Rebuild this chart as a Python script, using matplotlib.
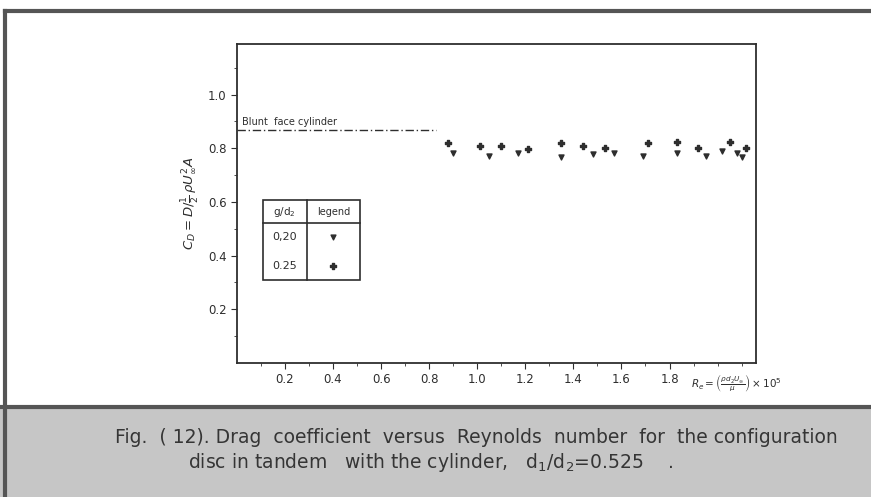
import matplotlib
matplotlib.use("Agg")
import matplotlib.pyplot as plt
from matplotlib.patches import Rectangle
from matplotlib.lines import Line2D

# data
re_025 = [0.88, 1.01, 1.10, 1.21, 1.35, 1.44, 1.53, 1.71, 1.83, 1.92, 2.05, 2.12]
cd_025 = [0.818, 0.81, 0.81, 0.796, 0.818, 0.81, 0.80, 0.818, 0.822, 0.80, 0.822, 0.803]
re_020 = [0.90, 1.05, 1.17, 1.35, 1.48, 1.57, 1.69, 1.83, 1.95, 2.02, 2.08, 2.10]
cd_020 = [0.784, 0.773, 0.781, 0.766, 0.777, 0.781, 0.773, 0.781, 0.773, 0.79, 0.781, 0.766]
blunt_cd = 0.87
blunt_re = [0.0, 0.83]
xticks = [0.2, 0.4, 0.6, 0.8, 1.0, 1.2, 1.4, 1.6, 1.8]
yticks = [0.2, 0.4, 0.6, 0.8, 1.0]

ink = "#2e2e2e"
plt.rcParams['font.family'] = ['DejaVu Sans']

fig = plt.figure(figsize=(8.71, 4.97), dpi=100)
fig.patch.set_facecolor("white")

# scan frame and caption band
fig.add_artist(Rectangle((0.0, 0.0), 1.0, 0.178, transform=fig.transFigure,
                         facecolor="#c6c6c6", edgecolor="none"))
fig.add_artist(Line2D([0.0, 1.0], [0.182, 0.182], transform=fig.transFigure,
                      color="#555555", lw=3))
fig.add_artist(Line2D([0.006, 1.0], [0.978, 0.978], transform=fig.transFigure,
                      color="#555555", lw=3))
fig.add_artist(Line2D([0.006, 0.006], [0.0, 0.978], transform=fig.transFigure,
                      color="#555555", lw=3))
fig.text(0.547, 0.12, "Fig.  ( 12). Drag  coefficient  versus  Reynolds  number  for  the configuration",
         ha="center", va="center", fontsize=13.5, color="#353535")
fig.text(0.494, 0.07, r"disc in tandem   with the cylinder,   d$_1$/d$_2$=0.525    .",
         ha="center", va="center", fontsize=13.5, color="#353535")

ax = fig.add_axes([0.272, 0.27, 0.596, 0.642])
ax.set_xlim(0, 2.16)
ax.set_ylim(0, 1.19)
for s in ax.spines.values():
    s.set_color(ink)
    s.set_linewidth(1.3)

ax.set_xticks(xticks)
ax.set_xticklabels([f"{v:.1f}" for v in xticks])
ax.set_xticks([v / 10 for v in range(1, 22)], minor=True)
ax.set_yticks(yticks)
ax.set_yticklabels([f"{v:.1f}" for v in yticks])
ax.set_yticks([v / 10 for v in range(1, 12)], minor=True)
ax.tick_params(axis="both", which="major", direction="out", length=4, color=ink,
               labelsize=8.5, labelcolor=ink)
ax.tick_params(axis="both", which="minor", direction="out", length=2, color=ink)

ax.set_ylabel(r"$C_D=D/\frac{1}{2}\,\rho U_\infty^2 A$", fontsize=9.5, color=ink, labelpad=4)

ax.text(2.08, -0.075, r"$R_e=\left(\frac{\rho d_2 U_\infty}{\mu}\right)\times10^5$",
        fontsize=7.5, color=ink, ha="center", va="center", clip_on=False)

# blunt face reference line
ax.plot(blunt_re, [blunt_cd, blunt_cd], color=ink, lw=1, ls=(0, (6, 2, 1, 2)))
ax.text(0.02, blunt_cd + 0.01, "Blunt  face cylinder", fontsize=7, color=ink,
        ha="left", va="bottom")

ax.scatter(re_025, cd_025, marker="P", s=22, color=ink, zorder=3)
ax.scatter(re_020, cd_020, marker="v", s=13, color=ink, zorder=3)

# legend table
tx0, tx1, txm = 0.108, 0.513, 0.29
ty0, ty1, tym = 0.309, 0.606, 0.52
ax.add_patch(Rectangle((tx0, ty0), tx1 - tx0, ty1 - ty0, fill=False, edgecolor=ink, lw=1.2))
ax.plot([txm, txm], [ty0, ty1], color=ink, lw=1.2)
ax.plot([tx0, tx1], [tym, tym], color=ink, lw=1.2)
ax.text((tx0 + txm) / 2, (tym + ty1) / 2, r"g/d$_2$", fontsize=7.5, color=ink, ha="center", va="center")
ax.text((txm + tx1) / 2, (tym + ty1) / 2, "legend", fontsize=7, color=ink, ha="center", va="center")
ax.text((tx0 + txm) / 2, 0.47, "0,20", fontsize=8, color=ink, ha="center", va="center")
ax.text((tx0 + txm) / 2, 0.36, "0.25", fontsize=8, color=ink, ha="center", va="center")
ax.scatter([(txm + tx1) / 2], [0.47], marker="v", s=12, color=ink)
ax.scatter([(txm + tx1) / 2], [0.36], marker="P", s=22, color=ink)

fig.savefig("out.png", dpi=100)
